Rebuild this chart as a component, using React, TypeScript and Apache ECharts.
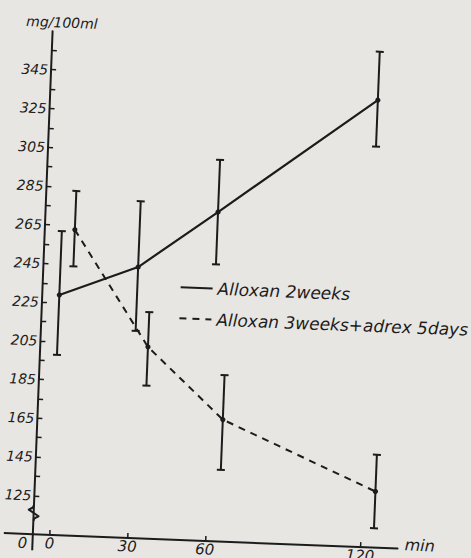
import React, { useEffect, useRef } from "react";
import * as echarts from "echarts";

// Time (min) of each measurement and blood sugar (mg/100ml): mean, upper and lower error-bar ends
const solidTime = [0, 30, 60, 120];
const solidMean = [229, 245, 275, 336];
const solidUpper = [262, 279, 302, 361];
const solidLower = [198, 212, 248, 312];

const dashedTime = [5, 35, 65, 125];
const dashedMean = [263, 204, 168, 134];
const dashedUpper = [283, 222, 191, 153];
const dashedLower = [244, 184, 142, 115];

const yTickValues = [125, 135, 145, 155, 165, 175, 185, 195, 205, 215, 225, 235, 245, 255, 265, 275, 285, 295, 305, 315, 325, 335, 345, 355];
const yLabelValues = [125, 145, 165, 185, 205, 225, 245, 265, 285, 305, 325, 345];
const xTickValues = [0, 30, 60, 120];
const xTickLabels = ["0", "30", "60", "120"];

const seriesNames = ["Alloxan 2weeks", "Alloxan 3weeks+adrex 5days"];
const xAxisName = "min";
const yAxisName = "mg/100ml";

const X_MIN = -6.6;
const X_MAX = 134.4;
const Y_MIN = 105;
const Y_MAX = 365;

const BG = "#e8e6e2";

export default function App() {
  const ref = useRef<HTMLDivElement>(null);

  useEffect(() => {
    const chart = echarts.init(ref.current!, null, { renderer: "svg" });
    const ink = "#1c1c1c";
    const bg = BG;
    const font = "'DejaVu Sans', sans-serif";

    const errData = (t: number[], m: number[], lo: number[], hi: number[]) =>
      t.map((x, i) => [x, m[i], lo[i], hi[i]]);

    const renderErr = (_params: any, api: any) => {
      const x = api.value(0);
      const top = api.coord([x, api.value(3)]);
      const bot = api.coord([x, api.value(2)]);
      const mid = api.coord([x, api.value(1)]);
      const cap = 4;
      const st = { stroke: ink, lineWidth: 2 };
      return {
        type: "group",
        children: [
          { type: "line", shape: { x1: top[0], y1: top[1], x2: bot[0], y2: bot[1] }, style: st },
          { type: "line", shape: { x1: top[0] - cap, y1: top[1], x2: top[0] + cap, y2: top[1] }, style: st },
          { type: "line", shape: { x1: bot[0] - cap, y1: bot[1], x2: bot[0] + cap, y2: bot[1] }, style: st },
          { type: "circle", shape: { cx: mid[0], cy: mid[1], r: 2.6 }, style: { fill: ink } },
        ],
      };
    };

    chart.setOption({
      animation: false,
      backgroundColor: bg,
      grid: { left: 43, right: 63, top: 38.5, bottom: 16, containLabel: false },
      legend: {
        data: seriesNames,
        orient: "vertical",
        left: 180,
        top: 281,
        padding: 0,
        itemWidth: 32,
        itemHeight: 16,
        itemGap: 14,
        itemStyle: { opacity: 0, color: "transparent", borderWidth: 0 },
        textStyle: { color: ink, fontSize: 17, fontStyle: "italic", fontFamily: font },
      },
      xAxis: {
        type: "value",
        min: X_MIN,
        max: X_MAX,
        splitLine: { show: false },
        axisLine: { onZero: false, lineStyle: { color: ink, width: 2 } },
        axisTick: { inside: true, length: 5, lineStyle: { color: ink, width: 1.5 }, customValues: xTickValues },
        axisLabel: {
          customValues: xTickValues,
          formatter: (v: number) => xTickLabels[xTickValues.indexOf(v)] ?? "",
          color: ink,
          fontSize: 15,
          fontStyle: "italic",
          fontFamily: font,
          margin: 1,
        },
      },
      yAxis: {
        type: "value",
        min: Y_MIN,
        max: Y_MAX,
        name: yAxisName,
        nameLocation: "end",
        nameGap: 2,
        nameTextStyle: { color: ink, fontSize: 14, fontStyle: "italic", fontFamily: font, padding: [0, 0, 0, 18] },
        splitLine: { show: false },
        axisLine: { onZero: false, lineStyle: { color: ink, width: 2 } },
        axisTick: { inside: true, length: 5, lineStyle: { color: ink, width: 1.5 }, customValues: yTickValues },
        axisLabel: {
          customValues: yLabelValues,
          color: ink,
          fontSize: 14,
          fontStyle: "italic",
          fontFamily: font,
          margin: 3,
        },
      },
      series: [
        {
          name: seriesNames[0],
          type: "line",
          data: solidTime.map((t, i) => [t, solidMean[i]]),
          symbol: "none",
          lineStyle: { color: ink, width: 2.2 },
          itemStyle: { color: ink },
        },
        {
          name: seriesNames[1],
          type: "line",
          data: dashedTime.map((t, i) => [t, dashedMean[i]]),
          symbol: "none",
          lineStyle: { color: ink, width: 2, type: [7, 6] },
          itemStyle: { color: ink },
        },
        {
          name: "err-solid",
          type: "custom",
          renderItem: renderErr,
          data: errData(solidTime, solidMean, solidLower, solidUpper),
          z: 3,
        },
        {
          name: "err-dashed",
          type: "custom",
          renderItem: renderErr,
          data: errData(dashedTime, dashedMean, dashedLower, dashedUpper),
          z: 3,
        },
      ],
    });

    const o = chart.convertToPixel({ gridIndex: 0 }, [X_MIN, Y_MIN]) as number[];
    const xEnd = chart.convertToPixel({ gridIndex: 0 }, [X_MAX, Y_MIN]) as number[];
    const bTop = chart.convertToPixel({ gridIndex: 0 }, [X_MIN, 120]) as number[];
    const bBot = chart.convertToPixel({ gridIndex: 0 }, [X_MIN, 112]) as number[];
    const ox = o[0];
    const oy = o[1];
    const t = bTop[1];
    const b = bBot[1];
    const h = b - t;

    chart.setOption({
      graphic: [
        { type: "line", shape: { x1: 14, y1: oy, x2: ox, y2: oy }, style: { stroke: ink, lineWidth: 2 } },
        { type: "line", shape: { x1: ox, y1: oy, x2: ox, y2: 575 }, style: { stroke: ink, lineWidth: 2 } },
        { type: "rect", shape: { x: ox - 7, y: t, width: 14, height: h }, style: { fill: bg } },
        {
          type: "polyline",
          shape: {
            points: [
              [ox, t],
              [ox - 1, t + h * 0.15],
              [ox - 5, t + h * 0.3],
              [ox + 5, t + h * 0.7],
              [ox + 1, t + h * 0.85],
              [ox, b],
            ],
          },
          style: { stroke: ink, lineWidth: 2, fill: "none", lineJoin: "round" },
        },
        {
          type: "text",
          x: ox - 10,
          y: oy + 9,
          style: { text: "0", fill: ink, fontSize: 15, fontStyle: "italic", fontFamily: font, align: "center", verticalAlign: "middle" },
        },
        {
          type: "text",
          x: xEnd[0] + 7,
          y: xEnd[1] - 4,
          style: { text: xAxisName, fill: ink, fontSize: 16, fontStyle: "italic", fontFamily: font, align: "left", verticalAlign: "middle" },
        },
      ],
    });

    return () => chart.dispose();
  }, []);

  return (
    <div style={{ position: "fixed", left: 0, top: 0, width: 471, height: 558, background: BG, overflow: "hidden" }}>
      <div
        ref={ref}
        style={{ width: 471, height: 558, transform: "rotate(2.25deg)", transformOrigin: "50% 50%" }}
      />
    </div>
  );
}
